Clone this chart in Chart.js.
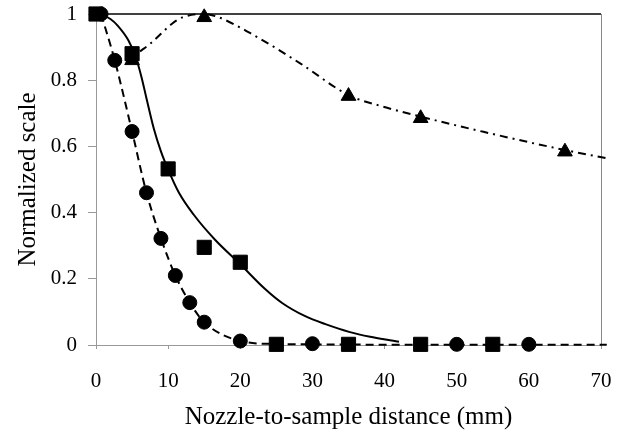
<!DOCTYPE html>
<html><head><meta charset="utf-8">
<script src="https://cdn.jsdelivr.net/npm/chart.js@4.4.1/dist/chart.umd.min.js"></script>
<style>html,body{margin:0;padding:0;background:#fff;}canvas{display:block;}</style>
</head><body>
<canvas id="c" width="621" height="433"></canvas>
<script>
// ---- data ----
const xTicks = [0, 10, 20, 30, 40, 50, 60, 70];
const yTicks = [0, 0.2, 0.4, 0.6, 0.8, 1];

const squareX = [0, 5, 10, 15, 20, 25, 35, 45, 55];
const squareY = [1, 0.88, 0.532, 0.295, 0.25, 0.002, 0.002, 0.002, 0.002];

const circleX = [0.7, 2.6, 5, 7, 9, 11, 13, 15, 20, 30, 50, 60];
const circleY = [1, 0.86, 0.645, 0.46, 0.322, 0.21, 0.128, 0.069, 0.012, 0.004, 0.002, 0.002];

const triangleX = [5, 15, 35, 45, 65];
const triangleY = [0.86, 0.99, 0.752, 0.685, 0.584];

// fitted curves
const solidCurveX = [0, 1, 2, 3, 4.5, 5.5, 6.3, 7, 8, 9, 10, 11.5, 13.5, 16.5, 20, 23.4, 25.8, 29, 31.8, 35.2, 38, 41.2, 42];
const solidCurveY = [1, 0.995, 0.985, 0.965, 0.92, 0.87, 0.81, 0.745, 0.655, 0.585, 0.53, 0.46, 0.395, 0.318, 0.244, 0.17, 0.127, 0.087, 0.063, 0.039, 0.025, 0.013, 0.01];

const dashedCurveX = [0.7, 2.6, 5, 7, 9, 11, 13, 15, 20, 25, 30, 40, 50, 60, 70.8];
const dashedCurveY = [1, 0.86, 0.645, 0.46, 0.322, 0.21, 0.128, 0.069, 0.012, 0.003, 0.002, 0.001, 0.001, 0.001, 0.001];

const dashDotCurveX = [6.1, 7.5, 9, 10.5, 12, 15, 17, 21.4, 28.3, 35, 39.8, 45, 53.7, 65, 70.8];
const dashDotCurveY = [0.887, 0.91, 0.94, 0.97, 0.99, 1.0, 0.99, 0.942, 0.851, 0.755, 0.72, 0.69, 0.644, 0.589, 0.564];

const xTitle = 'Nozzle-to-sample distance (mm)';
const yTitle = 'Normalized scale';

// ---- build ----
const pts = (xs, ys) => xs.map((x, i) => ({x: x, y: ys[i]}));
const serif = "'Liberation Serif', 'Times New Roman', serif";
const tickFont = {family: serif, size: 21};
const titleFont = {family: serif, size: 25};

const framePlugin = {
  id: 'frame',
  beforeDatasetsDraw(chart) {
    const {ctx, chartArea: a} = chart;
    ctx.save();
    ctx.strokeStyle = '#000';
    ctx.lineWidth = 1.5;
    ctx.beginPath();
    ctx.moveTo(a.left, a.top);
    ctx.lineTo(a.right, a.top);
    ctx.stroke();
    ctx.strokeStyle = '#888';
    ctx.lineWidth = 1;
    ctx.beginPath();
    ctx.moveTo(a.right + 0.5, a.top);
    ctx.lineTo(a.right + 0.5, a.bottom);
    ctx.stroke();
    ctx.restore();
  }
};

const lineDs = (xs, ys, dash) => ({
  data: pts(xs, ys), showLine: true, borderColor: '#000', borderWidth: 2,
  borderDash: dash, pointRadius: 0, pointHoverRadius: 0,
  cubicInterpolationMode: 'monotone', fill: false, clip: 12
});
const markDs = (xs, ys, style, r) => ({
  data: pts(xs, ys), showLine: false, pointStyle: style, pointRadius: r,
  pointBackgroundColor: '#000', pointBorderColor: '#000', pointBorderWidth: 1,
  clip: false
});

new Chart(document.getElementById('c'), {
  type: 'scatter',
  data: {datasets: [
    lineDs(solidCurveX, solidCurveY, []),
    lineDs(dashedCurveX, dashedCurveY, [8, 5]),
    lineDs(dashDotCurveX, dashDotCurveY, [8, 5, 2, 5]),
    markDs(squareX, squareY, 'rect', 10),
    markDs(circleX, circleY, 'circle', 7),
    markDs(triangleX, triangleY, 'triangle', 8.5)
  ]},
  options: {
    responsive: false, animation: false, devicePixelRatio: 1,
    layout: {padding: {top: 14, right: 20, left: 0, bottom: 0}},
    plugins: {legend: {display: false}, tooltip: {enabled: false}},
    events: [],
    scales: {
      x: {
        type: 'linear', min: 0, max: 70,
        afterBuildTicks: s => { s.ticks = xTicks.map(v => ({value: v})); },
        afterFit: s => { s.height = 88; s.paddingLeft = 0; s.paddingRight = 0; },
        ticks: {font: tickFont, color: '#000', padding: 20, maxRotation: 0, autoSkip: false,
                callback: v => String(v)},
        grid: {drawOnChartArea: false, tickLength: 4, color: '#999'},
        border: {color: '#999', width: 1},
        title: {display: true, text: xTitle, font: titleFont, color: '#000', padding: {top: 0, bottom: 1}}
      },
      y: {
        type: 'linear', min: 0, max: 1,
        afterBuildTicks: s => { s.ticks = yTicks.map(v => ({value: v})); },
        afterFit: s => { s.width = 96; s.paddingTop = 0; s.paddingBottom = 0; },
        ticks: {font: tickFont, color: '#000', padding: 11, autoSkip: false,
                callback: v => String(Number(v.toFixed(1)))},
        grid: {drawOnChartArea: false, tickLength: 8, color: '#999'},
        border: {color: '#999', width: 1},
        title: {display: true, text: yTitle, font: titleFont, color: '#000', padding: {top: 13, bottom: 0}}
      }
    }
  },
  plugins: [framePlugin]
});
</script>
</body></html>
